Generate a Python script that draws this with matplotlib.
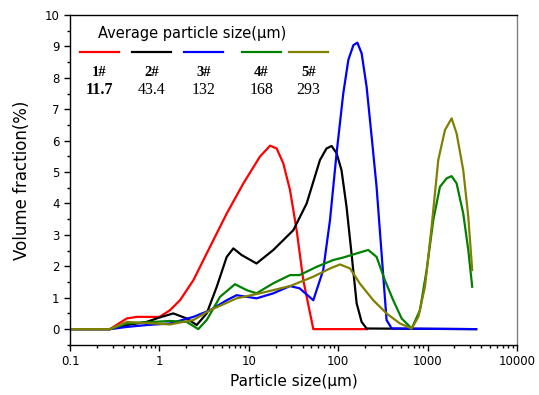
import numpy as np
import matplotlib.pyplot as plt
from matplotlib.ticker import LogLocator, NullFormatter, MultipleLocator

# particle size distributions (size in um, volume fraction in %)
x1 = [0.1, 0.28, 0.43, 0.56, 1.0, 1.31, 1.7, 2.4, 3.68, 5.66, 8.7, 13.3, 17.3, 20.5, 24.3, 28.9, 34.3, 40.7, 52.7, 210]
y1 = [0, 0, 0.34, 0.39, 0.39, 0.6, 0.92, 1.56, 2.62, 3.68, 4.64, 5.49, 5.84, 5.75, 5.28, 4.43, 3.15, 1.56, 0, 0]

x2 = [0.1, 0.28, 0.43, 0.72, 1.0, 1.43, 2.02, 2.61, 3.38, 4.38, 5.66, 6.72, 8.3, 12.2, 18.8, 31.5, 44.4,
      62.5, 74, 84.5, 96, 109, 124, 141, 161, 183, 208, 3500]
y2 = [0, 0, 0.13, 0.23, 0.37, 0.5, 0.34, 0.13, 0.5, 1.35, 2.3, 2.57, 2.36, 2.09, 2.52, 3.15, 4.0,
      5.38, 5.75, 5.83, 5.6, 5.06, 3.9, 2.41, 0.82, 0.23, 0.02, 0]

x3 = [0.1, 0.28, 0.43, 0.72, 1.31, 2.4, 3.68, 5.66, 7.3, 12.2, 18.8, 28.9, 37, 52.7, 68, 81, 96,
      114, 130, 148, 164, 183, 208, 237, 269, 306, 348, 397, 3500]
y3 = [0, 0, 0.07, 0.13, 0.18, 0.39, 0.6, 0.92, 1.08, 0.98, 1.14, 1.37, 1.3, 0.92, 1.88, 3.47, 5.6,
      7.5, 8.57, 9.04, 9.12, 8.78, 7.72, 6.12, 4.53, 2.41, 0.29, 0.02, 0]

x4 = [0.1, 0.28, 0.43, 1.31, 2.02, 2.72, 3.38, 4.77, 7.0, 9.5, 12.2, 18.8, 28.9, 37, 57, 88, 114,
      161, 217, 269, 333, 413, 513, 664, 822, 977, 1160, 1376, 1634, 1860, 2115, 2510, 2857, 3160]
y4 = [0, 0, 0.18, 0.26, 0.23, 0.0, 0.29, 1.03, 1.43, 1.24, 1.14, 1.46, 1.72, 1.72, 1.98, 2.2, 2.28,
      2.41, 2.52, 2.3, 1.56, 0.92, 0.34, 0.02, 0.6, 1.88, 3.47, 4.53, 4.8, 4.87, 4.64, 3.68, 2.52, 1.35]

x5 = [0.1, 0.28, 0.43, 1.31, 2.4, 3.68, 7.3, 13.3, 28.9, 52.7, 81, 105, 136, 175, 247, 348, 491,
      664, 789, 936, 1111, 1318, 1567, 1860, 2115, 2510, 2857, 3160]
y5 = [0, 0, 0.23, 0.15, 0.29, 0.6, 0.98, 1.14, 1.37, 1.67, 1.93, 2.06, 1.93, 1.45, 0.92, 0.5, 0.18,
      0.02, 0.39, 1.35, 3.26, 5.38, 6.34, 6.71, 6.23, 5.06, 3.58, 1.88]

names = ['1#', '2#', '3#', '4#', '5#']
sizes = ['11.7', '43.4', '132', '168', '293']
colors = ['#ff0000', '#000000', '#0000ff', '#008000', '#808000']

fig = plt.figure(figsize=(5.39, 3.95), dpi=100)
ax = fig.add_axes([0.130, 0.127, 0.829, 0.835])

for xs, ys, c in zip([x1, x2, x3, x4, x5], [y1, y2, y3, y4, y5], colors):
    ax.plot(xs, ys, color=c, lw=1.6, solid_joinstyle='round')

ax.set_xscale('log')
ax.set_xlim(0.1, 10000)
ax.set_ylim(-0.5, 10)
ax.set_xticks([0.1, 1, 10, 100, 1000, 10000])
ax.set_xticklabels(['0.1', '1', '10', '100', '1000', '10000'])
ax.xaxis.set_minor_locator(LogLocator(base=10, subs=np.arange(2, 10), numticks=20))
ax.xaxis.set_minor_formatter(NullFormatter())
ax.yaxis.set_major_locator(MultipleLocator(1))
ax.yaxis.set_minor_locator(MultipleLocator(0.5))
ax.tick_params(which='major', direction='out', length=4, width=1, labelsize=8.5)
ax.tick_params(which='minor', direction='out', length=2.5, width=1)
for s in ax.spines.values():
    s.set_linewidth(1)
ax.spines['right'].set_color('#808080')

ax.set_xlabel('Particle size(μm)', fontsize=11, labelpad=4)
ax.set_ylabel('Volume fraction(%)', fontsize=12, labelpad=10)

# legend block drawn by hand
ax.text(0.063, 0.945, 'Average particle size(μm)', transform=ax.transAxes,
        fontsize=10.5, va='center', ha='left')
seg_left = [0.022, 0.139, 0.255, 0.385, 0.490]
for i, c in enumerate(colors):
    xa = seg_left[i]
    ax.plot([xa, xa + 0.087], [0.888, 0.888], color=c, lw=1.6, transform=ax.transAxes)
    xc = xa + 0.0435
    ax.text(xc, 0.827, names[i], transform=ax.transAxes, ha='center', va='center',
            fontsize=10.5, fontweight='bold', family='Liberation Serif')
    ax.text(xc, 0.773, sizes[i], transform=ax.transAxes, ha='center', va='center',
            fontsize=11.5, fontweight='bold' if i == 0 else 'normal', family='Liberation Serif')

fig.savefig('out.png', dpi=100)
